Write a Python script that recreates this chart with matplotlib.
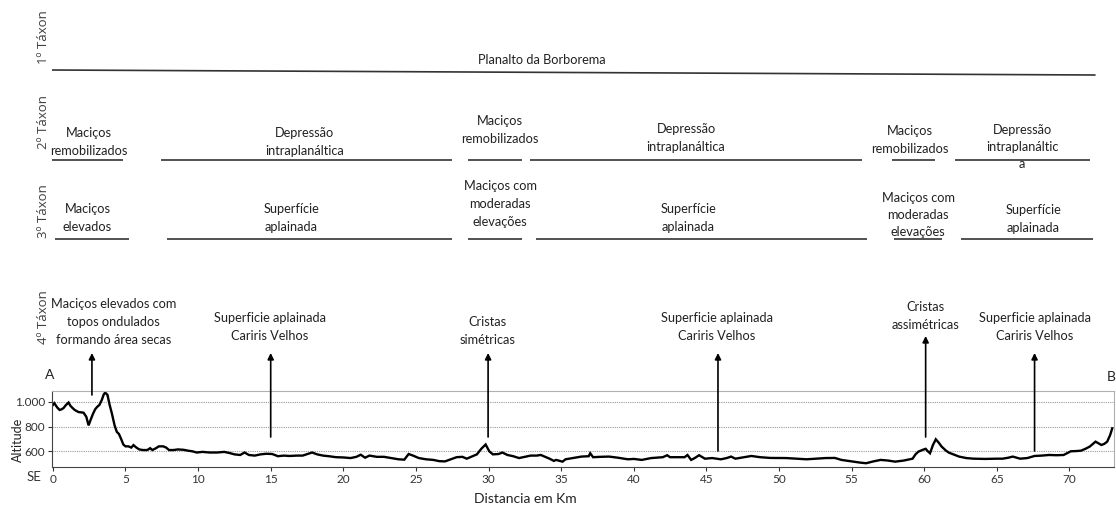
import matplotlib
matplotlib.use("Agg")
import matplotlib.pyplot as plt

# perfil topografico A-B (km, altitude m)
dist_km = [0.0, 0.1, 0.3, 0.46, 0.6, 0.73, 0.9, 1.08, 1.2, 1.31, 1.5, 1.76, 1.95, 2.11, 2.3, 2.46,
           2.61, 2.75, 2.91, 3.05, 3.2, 3.37, 3.5, 3.6, 3.76, 3.9, 4.06, 4.25, 4.4, 4.55, 4.7, 4.85,
           5.0, 5.2, 5.4, 5.55, 5.75, 5.95, 6.2, 6.5, 6.7, 6.85, 7.1, 7.3, 7.6, 7.8, 8.0, 8.3,
           8.6, 9.0, 9.3, 9.6, 9.9, 10.3, 10.8, 11.3, 11.8, 12.2, 12.5, 12.9, 13.2, 13.5, 13.9, 14.3,
           14.7, 15.1, 15.5, 15.9, 16.3, 16.8, 17.2, 17.6, 17.85, 18.2, 18.6, 19.0, 19.5, 20.0, 20.5, 20.9,
           21.2, 21.5, 21.8, 22.3, 22.8, 23.3, 23.8, 24.2, 24.5, 24.8, 25.2, 25.7, 26.2, 26.6, 27.0, 27.4,
           27.8, 28.2, 28.5, 28.9, 29.2, 29.5, 29.8, 30.05, 30.3, 30.7, 30.95, 31.3, 31.7, 32.1, 32.5, 32.9,
           33.3, 33.6, 33.9, 34.2, 34.5, 34.65, 35.1, 35.3, 35.8, 36.4, 36.9, 37.0, 37.2, 37.7, 38.3, 38.9,
           39.6, 40.0, 40.55, 41.2, 42.0, 42.3, 42.5, 43.5, 43.7, 43.95, 44.2, 44.5, 44.9, 45.4, 46.0, 46.4,
           46.7, 47.0, 47.5, 48.1, 48.7, 49.4, 50.5, 51.2, 51.9, 52.6, 53.2, 53.85, 54.3, 54.9, 55.6, 56.0,
           56.5, 57.0, 57.5, 58.0, 58.6, 59.2, 59.4, 59.6, 59.9, 60.1, 60.25, 60.4, 60.6, 60.8, 61.0, 61.2,
           61.5, 61.7, 62.0, 62.4, 62.9, 63.4, 64.2, 65.0, 65.4, 65.8, 66.1, 66.6, 67.1, 67.6, 68.1, 68.6,
           69.1, 69.6, 70.1, 70.5, 70.8, 71.1, 71.4, 71.8, 72.0, 72.2, 72.4, 72.6, 72.8, 72.95]
altitude = [975, 990, 955, 935, 940, 950, 975, 995, 970, 956, 935, 918, 915, 913, 880, 810,
            858, 900, 940, 960, 975, 1016, 1060, 1076, 1057, 980, 908, 810, 758, 740, 700, 655,
            640, 640, 630, 650, 630, 615, 610, 610, 625, 610, 625, 640, 640, 630, 610, 610,
            615, 612, 605, 600, 590, 595, 590, 590, 595, 585, 575, 570, 590, 570, 565, 575,
            580, 578, 560, 565, 562, 565, 565, 580, 590, 575, 565, 560, 552, 550, 545, 555,
            572, 548, 565, 555, 555, 545, 535, 532, 578, 565, 545, 535, 530, 520, 518, 535,
            552, 555, 540, 560, 575, 620, 655, 600, 575, 578, 590, 570, 560, 545, 555, 565,
            565, 570, 555, 540, 522, 530, 516, 535, 545, 557, 560, 584, 552, 555, 557, 548,
            535, 538, 530, 545, 552, 568, 552, 552, 570, 530, 545, 568, 540, 545, 535, 545,
            557, 540, 550, 562, 552, 546, 545, 540, 535, 540, 545, 546, 530, 520, 508, 503,
            518, 530, 525, 516, 525, 540, 575, 597, 612, 620, 600, 584, 650, 697, 670, 638,
            605, 589, 575, 557, 545, 540, 538, 540, 540, 548, 557, 540, 545, 562, 565, 570,
            568, 570, 600, 602, 605, 620, 638, 678, 665, 651, 660, 678, 730, 786]

x_ticks = [0, 5, 10, 15, 20, 25, 30, 35, 40, 45, 50, 55, 60, 65, 70]
y_ticks = [600, 800, 1000]
y_tick_labels = ["600", "800", "1.000"]

# taxons: (inicio km, fim km) das linhas e (centro km, texto)
taxon1_line = (-0.2, 71.8)
taxon1_text = (33.7, "Planalto da Borborema")

taxon2_lines = [(-0.2, 4.83), (7.44, 27.49), (28.59, 32.31), (32.86, 55.72), (57.79, 60.75), (62.13, 71.43)]
taxon2_texts = [(2.49, "Maciços\nremobilizados"), (17.36, "Depressão\nintraplanáltica"),
                (30.79, "Maciços\nremobilizados"), (43.6, "Depressão\nintraplanáltica"),
                (59.03, "Maciços\nremobilizados"), (66.74, "Depressão\nintraplanáltic\na")]

taxon3_lines = [(0.14, 5.24), (7.86, 27.49), (28.59, 32.31), (33.27, 56.06), (57.9, 61.2), (62.54, 71.63)]
taxon3_texts = [(2.38, "Maciços\nelevados"), (16.4, "Superfície\naplainada"),
                (30.79, "Maciços com\nmoderadas\nelevações"), (43.74, "Superfície\naplainada"),
                (59.58, "Maciços com\nmoderadas\nelevações"), (67.5, "Superfície\naplainada")]

taxon4_texts = [(4.2, "Maciços elevados com\ntopos ondulados\nformando área secas"),
                (14.95, "Superficie aplainada\nCariris Velhos"),
                (29.93, "Cristas\nsimétricas"),
                (45.74, "Superficie aplainada\nCariris Velhos"),
                (60.1, "Cristas\nassimétricas"),
                (67.6, "Superficie aplainada\nCariris Velhos")]
arrow_x = [2.69, 15.0, 29.97, 45.8, 60.1, 67.6]

W, H = 1116, 507
fig = plt.figure(figsize=(W / 100, H / 100), dpi=100)
fig.patch.set_facecolor("white")

txt_font = ["Lato", "DejaVu Sans"]
lab_font = ["Open Sans", "DejaVu Sans"]

x_min, x_max = -0.06, 73.07
left = 52 / W
width = (1114 - 52) / W

# perfil
ax = fig.add_axes([left, (H - 466.7) / H, width, 76 / H])
ax.plot(dist_km, altitude, color="black", lw=1.7, solid_joinstyle="miter")
ax.set_xlim(x_min, x_max)
ax.set_ylim(475, 1091)
ax.set_xticks(x_ticks)
ax.set_yticks(y_ticks)
ax.set_yticklabels(y_tick_labels)
ax.tick_params(axis="both", labelsize=8.5, colors="#333333", length=3, width=0.8, pad=2)
for lab in ax.get_xticklabels() + ax.get_yticklabels():
    lab.set_family(txt_font)
ax.grid(axis="y", color="#9a9a9a", lw=0.8, linestyle=(0, (1, 1)))
ax.spines["left"].set_color("#444444")
ax.spines["bottom"].set_color("#444444")
ax.spines["top"].set_color("#b0b0b0")
ax.spines["right"].set_color("#b0b0b0")
ax.set_ylabel("Altitude", fontsize=9, family=txt_font, color="#222222")
ax.yaxis.set_label_coords(-0.026, 0.35)
ax.set_xlabel("Distancia em Km", fontsize=10, family=txt_font, color="#222222")
ax.xaxis.set_label_coords(0.446, -0.34)

# sobreposicao para os taxons (x em km, y em pixels)
ov = fig.add_axes([left, 0, width, 1])
ov.set_xlim(x_min, x_max)
ov.set_ylim(H, 0)
ov.axis("off")
ov.patch.set_alpha(0)

line_kw = dict(color="#333333", lw=1.2, solid_capstyle="butt")
t_kw = dict(ha="center", va="center", fontsize=9.2, family=txt_font, color="#222222",
            linespacing=1.55, clip_on=False)
lab_kw = dict(ha="center", va="center", rotation=90, fontsize=9.5, family=lab_font,
              color="#404040", clip_on=False)

ov.plot(taxon1_line, [70, 75], **line_kw)
ov.text(taxon1_text[0], 60, taxon1_text[1], **t_kw)
ov.text(-0.65, 37, "1º Táxon", **lab_kw)

ov.text(-0.65, 122, "2º Táxon", **lab_kw)
for (a, b) in taxon2_lines:
    ov.plot([a, b], [160, 160], **line_kw)
for (xc, s), yc in zip(taxon2_texts, [142, 142, 130, 138, 140, 147]):
    ov.text(xc, yc, s, **t_kw)

ov.text(-0.65, 211, "3º Táxon", **lab_kw)
for (a, b) in taxon3_lines:
    ov.plot([a, b], [238.5, 238.5], **line_kw)
for (xc, s), yc in zip(taxon3_texts, [218, 218, 204, 218, 215, 219]):
    ov.text(xc, yc, s, **t_kw)

ov.text(-0.65, 317, "4º Táxon", **lab_kw)
for (xc, s), yc in zip(taxon4_texts, [322, 327, 331, 327, 316, 327]):
    ov.text(xc, yc, s, **t_kw)

for xa, top, bot in zip(arrow_x, [353, 353, 353, 353, 336, 353], [395, 437, 437, 451, 437, 451]):
    ov.annotate("", xy=(xa, top), xytext=(xa, bot),
                arrowprops=dict(arrowstyle="-|>", color="black", lw=1.2,
                                mutation_scale=9, shrinkA=0, shrinkB=0))

ov.text(-0.2, 375, "A", fontsize=10, family=txt_font, color="#222222", ha="center", va="center")
ov.text(72.9, 377, "B", fontsize=10, family=txt_font, color="#222222", ha="center", va="center")
ov.text(-1.3, 477, "SE", fontsize=9.5, family=txt_font, color="#333333", ha="center", va="center")

fig.savefig("out.png", dpi=100)
